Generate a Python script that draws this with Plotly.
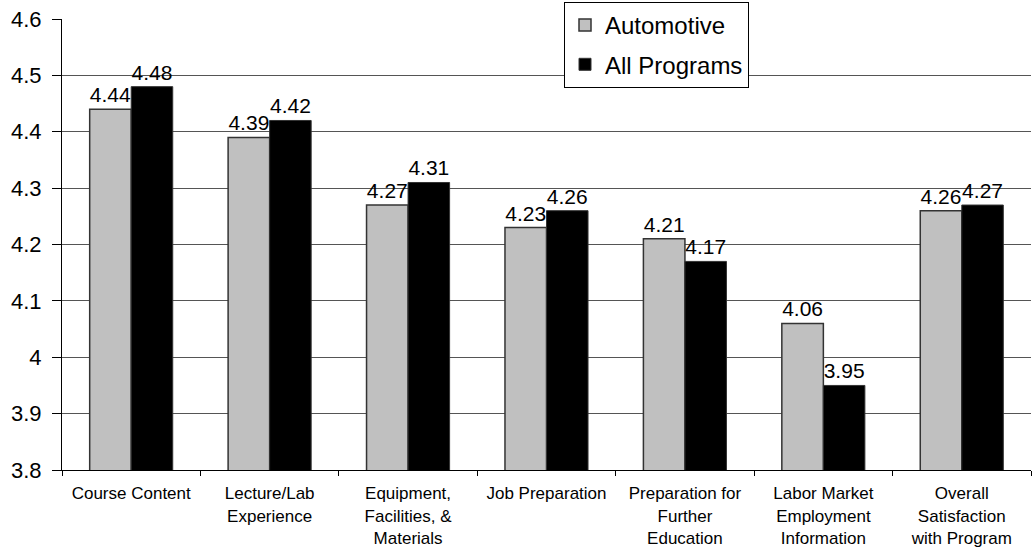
import plotly.graph_objects as go

categories = [
    "Course Content",
    "Lecture/Lab<br>Experience",
    "Equipment,<br>Facilities, &<br>Materials",
    "Job Preparation",
    "Preparation for<br>Further<br>Education",
    "Labor Market<br>Employment<br>Information",
    "Overall<br>Satisfaction<br>with Program",
]
automotive = [4.44, 4.39, 4.27, 4.23, 4.21, 4.06, 4.26]
all_programs = [4.48, 4.42, 4.31, 4.26, 4.17, 3.95, 4.27]
y_ticks = [3.8, 3.9, 4.0, 4.1, 4.2, 4.3, 4.4, 4.5, 4.6]

FONT = "Arial, Liberation Sans, sans-serif"

fig = go.Figure()
fig.add_trace(go.Bar(
    name="Automotive", x=categories, y=automotive,
    marker=dict(color="#C0C0C0", line=dict(color="#333333", width=1.5)),
    text=[f"{v:.2f}" for v in automotive], textposition="outside",
    textfont=dict(size=21, color="black", family=FONT),
    constraintext="none", cliponaxis=False, legendgroup="a",
))
fig.add_trace(go.Bar(
    name="All Programs", x=categories, y=all_programs,
    marker=dict(color="#000000", line=dict(color="#333333", width=1)),
    text=[f"{v:.2f}" for v in all_programs], textposition="outside",
    textfont=dict(size=21, color="black", family=FONT),
    constraintext="none", cliponaxis=False, legendgroup="b",
))

fig.update_layout(
    width=1034, height=550,
    margin=dict(l=62, r=3, t=19, b=80, autoexpand=False),
    paper_bgcolor="white", plot_bgcolor="white",
    barmode="group", bargap=0.4, bargroupgap=0,
    font=dict(family=FONT, color="black"),
    showlegend=True,
    legend=dict(
        x=(564 - 62) / 969, y=1 + 17 / 451, xanchor="left", yanchor="top",
        bgcolor="white", bordercolor="black", borderwidth=1,
        font=dict(size=24, family=FONT, color="black"),
        traceorder="grouped", tracegroupgap=5,
        entrywidth=155, entrywidthmode="pixels",
    ),
)
fig.update_yaxes(
    range=[3.8, 4.6], tickvals=y_ticks,
    ticktext=[("4" if v == 4.0 else f"{v:.1f}") for v in y_ticks],
    showgrid=True, gridcolor="#555555", gridwidth=1,
    showline=True, linecolor="black", linewidth=1,
    ticks="outside", ticklen=9, tickcolor="black",
    tickfont=dict(size=22, family=FONT, color="black"),
    ticklabelstandoff=6,
    zeroline=False, automargin=False,
)
fig.update_xaxes(
    showgrid=False, showline=True, linecolor="black", linewidth=1,
    ticks="outside", ticklen=5, tickcolor="black", tickson="boundaries",
    tickfont=dict(size=17, family=FONT, color="black"),
    ticklabelstandoff=8,
    tickangle=0, automargin=False,
)

fig.write_html(
    "out.html",
    config={"displayModeBar": False},
    post_script="document.body.style.margin='0';",
)
